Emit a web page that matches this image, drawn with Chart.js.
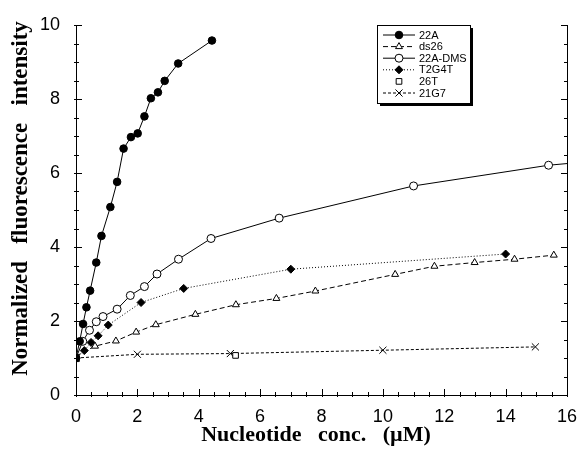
<html>
<head>
<script src="https://cdn.jsdelivr.net/npm/chart.js@4.4.0/dist/chart.umd.min.js"></script>
<style>
    body { margin: 0; background-color: #ffffff; }
</style>
</head>
<body>
<canvas id="myChart" width="577" height="450"></canvas>
<script>
// values: x = nucleotide conc. (uM), y = normalized intensity
var seriesNames = ['22A', 'ds26', '22A-DMS', 'T2G4T', '26T', '21G7'];

var x22A = [0, 0.12, 0.23, 0.34, 0.46, 0.66, 0.83, 1.12, 1.34, 1.55, 1.79, 2.01, 2.23, 2.44, 2.67, 2.89, 3.33, 4.43];
var y22A = [1.0, 1.45, 1.92, 2.37, 2.82, 3.58, 4.3, 5.08, 5.76, 6.66, 6.97, 7.07, 7.53, 8.02, 8.18, 8.49, 8.96, 9.58];

var xDs26 = [0, 0.62, 1.3, 1.96, 2.6, 3.89, 5.21, 6.53, 7.8, 10.4, 11.68, 12.99, 14.29, 15.57];
var yDs26 = [1.05, 1.32, 1.46, 1.7, 1.9, 2.18, 2.44, 2.61, 2.81, 3.26, 3.48, 3.58, 3.67, 3.78];

var xDMS = [0, 0.22, 0.44, 0.66, 0.88, 1.34, 1.77, 2.23, 2.64, 3.34, 4.4, 6.62, 11.0, 15.4, 16.6];
var yDMS = [1.0, 1.45, 1.75, 1.98, 2.12, 2.32, 2.69, 2.93, 3.27, 3.67, 4.23, 4.78, 5.65, 6.21, 6.3];

var xT2G4T = [0, 0.27, 0.49, 0.72, 1.05, 2.12, 3.51, 7.0, 14.0];
var yT2G4T = [1.0, 1.2, 1.42, 1.6, 1.89, 2.5, 2.88, 3.4, 3.81];

var x26T = [0, 5.2];
var y26T = [0.98, 1.07];

var x21G7 = [0, 2.0, 5.03, 10.0, 14.97];
var y21G7 = [1.0, 1.1, 1.12, 1.21, 1.3];

var xTicks = [0, 2, 4, 6, 8, 10, 12, 14, 16];
var yTicks = [0, 2, 4, 6, 8, 10];

function toPoints(xs, ys) {
    var pts = [];
    for (var i = 0; i < xs.length; i++) {
        pts.push({ x: xs[i], y: ys[i] });
    }
    return pts;
}

// little inward tick marks on left, right and bottom axes + the right frame line
var tickMarks = {
    id: 'tickMarks',
    afterDraw: function (chart) {
        var ctx = chart.ctx;
        var a = chart.chartArea;
        var xs = chart.scales.x;
        var ys = chart.scales.y;
        ctx.save();
        ctx.strokeStyle = '#000';
        ctx.lineWidth = 1;
        ctx.beginPath();
        ctx.moveTo(a.right + 0.5, a.top);
        ctx.lineTo(a.right + 0.5, a.bottom);
        for (var v = 0; v <= 16; v += 0.5) {
            var px = Math.round(xs.getPixelForValue(v)) + 0.5;
            var len = (v % 2 === 0) ? 6 : 3;
            ctx.moveTo(px, a.bottom + 2);
            ctx.lineTo(px, a.bottom - len);
        }
        for (var w = 0; w <= 10; w += 0.5) {
            var py = Math.round(ys.getPixelForValue(w)) + 0.5;
            var l2 = (w % 2 === 0) ? 6 : 3;
            ctx.moveTo(a.left - 2, py);
            ctx.lineTo(a.left + l2, py);
            ctx.moveTo(a.right + 1, py);
            ctx.lineTo(a.right - l2, py);
        }
        ctx.stroke();
        ctx.restore();
    }
};

// boxed legend drawn inside the plot, top right
var boxLegend = {
    id: 'boxLegend',
    afterDraw: function (chart) {
        var ctx = chart.ctx;
        var left = 377, top = 25, w = 93, h = 78;
        ctx.save();
        ctx.fillStyle = '#fff';
        ctx.fillRect(left, top, w, h);
        ctx.strokeStyle = '#000';
        ctx.lineWidth = 1;
        ctx.strokeRect(left + 0.5, top + 0.5, w, h);
        ctx.lineWidth = 2;
        ctx.beginPath();
        ctx.moveTo(left + w + 2, top + 3);
        ctx.lineTo(left + w + 2, top + h + 2);
        ctx.lineTo(left + 3, top + h + 2);
        ctx.stroke();

        ctx.font = '11px "Liberation Sans", Arial, sans-serif';
        ctx.textBaseline = 'middle';
        chart.data.datasets.forEach(function (ds, i) {
            var y = top + 10 + i * 11.6;
            ctx.lineWidth = 1;
            if (ds.showLine !== false) {
                ctx.setLineDash(ds.borderDash || []);
                ctx.strokeStyle = ds.borderColor;
                ctx.beginPath();
                ctx.moveTo(left + 6, y);
                ctx.lineTo(left + 38, y);
                ctx.stroke();
                ctx.setLineDash([]);
            }
            ctx.strokeStyle = '#000';
            ctx.fillStyle = ds.pointBackgroundColor;
            Chart.helpers.drawPoint(ctx, {
                pointStyle: ds.pointStyle,
                radius: ds.pointRadius,
                rotation: 0,
                borderWidth: 1
            }, left + 22, y);
            ctx.fillStyle = '#000';
            ctx.fillText(ds.label, left + 42, y + 0.5);
        });
        ctx.restore();
    }
};

function makeSet(label, pts, style, fill, radius, dash, line) {
    return {
        label: label,
        data: pts,
        showLine: line,
        borderColor: '#000',
        borderWidth: 1,
        borderDash: dash,
        pointStyle: style,
        pointRadius: radius,
        pointHoverRadius: radius,
        pointBorderColor: '#000',
        pointBorderWidth: 1,
        pointBackgroundColor: fill,
        tension: 0
    };
}

var nb = '\u00a0';

var paintingCanvas = document.getElementById('myChart').getContext('2d');
var chart = new Chart(paintingCanvas, {
    type: 'scatter',
    data: {
        datasets: [
            makeSet(seriesNames[0], toPoints(x22A, y22A), 'circle', '#000', 3.8, [], true),
            makeSet(seriesNames[1], toPoints(xDs26, yDs26), 'triangle', '#fff', 4, [5, 3], true),
            makeSet(seriesNames[2], toPoints(xDMS, yDMS), 'circle', '#fff', 4, [], true),
            makeSet(seriesNames[3], toPoints(xT2G4T, yT2G4T), 'rectRot', '#000', 4, [1, 2], true),
            makeSet(seriesNames[4], toPoints(x26T, y26T), 'rect', '#fff', 4, [], false),
            makeSet(seriesNames[5], toPoints(x21G7, y21G7), 'crossRot', '#fff', 5, [3, 2], true)
        ]
    },
    options: {
        responsive: false,
        animation: false,
        layout: { padding: { left: 0, right: 10, top: 25, bottom: 0 } },
        plugins: {
            legend: { display: false },
            tooltip: { enabled: false }
        },
        scales: {
            x: {
                type: 'linear',
                min: 0,
                max: 16,
                afterBuildTicks: function (scale) {
                    scale.ticks = xTicks.map(function (v) { return { value: v }; });
                },
                afterFit: function (scale) {
                    scale.height = 55;
                    scale.paddingRight = 0;
                },
                ticks: {
                    color: '#000',
                    padding: 3,
                    font: { family: '"Liberation Sans", Arial, sans-serif', size: 18 }
                },
                grid: { display: false },
                border: { display: true, color: '#000', width: 1 },
                title: {
                    display: true,
                    text: 'Nucleotide' + nb.repeat(3) + 'conc.' + nb.repeat(3) + '(\u00b5M)' + nb.repeat(2),
                    color: '#000',
                    padding: { top: 0, bottom: 1 },
                    font: { family: '"Liberation Serif", "Times New Roman", serif', size: 22, weight: 'bold' }
                }
            },
            y: {
                type: 'linear',
                min: 0,
                max: 10,
                afterBuildTicks: function (scale) {
                    scale.ticks = yTicks.map(function (v) { return { value: v }; });
                },
                afterFit: function (scale) { scale.width = 76; },
                ticks: {
                    color: '#000',
                    padding: 8,
                    font: { family: '"Liberation Sans", Arial, sans-serif', size: 18 }
                },
                grid: { display: false },
                border: { display: true, color: '#000', width: 1 },
                title: {
                    display: true,
                    text: nb.repeat(4) + 'Normalized' + nb.repeat(3) + 'fluorescence' + nb.repeat(3) + 'intensity',
                    color: '#000',
                    padding: { top: 7, bottom: 0 },
                    font: { family: '"Liberation Serif", "Times New Roman", serif', size: 23, weight: 'bold' }
                }
            }
        }
    },
    plugins: [tickMarks, boxLegend]
});
</script>
</body>
</html>
